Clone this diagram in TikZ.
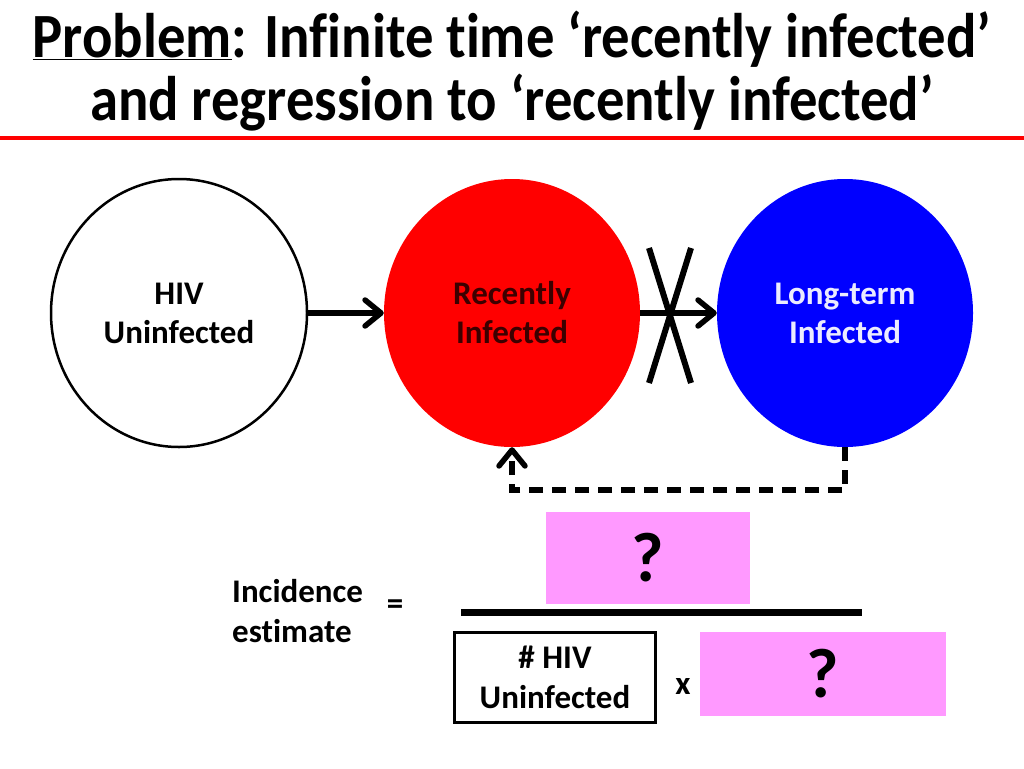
\documentclass[tikz,border=0pt]{standalone}
\usepackage{fontspec}
\setmainfont{Carlito}[Ligatures=NoCommon]
\newfontfamily\titlefam{Carlito}[Ligatures=NoCommon, FakeStretch=0.9]
\usetikzlibrary{shapes.geometric,arrows.meta}
\definecolor{pinkbox}{RGB}{255,153,255}
\definecolor{recenttext}{RGB}{60,0,0}
\definecolor{longtext}{RGB}{235,235,255}
\begin{document}
\begin{tikzpicture}[x=1pt,y=-1pt,
  titlefont/.style={font=\titlefam\fontsize{63}{69}\selectfont\bfseries, inner sep=0pt},
  state/.style={ellipse, minimum width=256pt, minimum height=268pt, inner sep=0pt, align=center,
    font=\fontsize{33}{39}\selectfont\bfseries},
  conn/.style={line width=5.5pt, -{Straight Barb[length=16pt,width=26pt,round]}},
  dashconn/.style={conn, dash pattern=on 14pt off 9pt},
  body/.style={font=\fontsize{33}{40}\selectfont\bfseries, inner sep=0pt},
  pinkq/.style={fill=pinkbox, inner sep=0pt, font=\fontsize{70}{80}\selectfont\bfseries},
]
\useasboundingbox (0,0) rectangle (1024,768);

% title
\node[titlefont, anchor=base] (t1) at (512,57) {\underline{Problem}: Infinite time ‘recently infected’};
\node[titlefont, anchor=base] (t2) at (512,120) {and regression to ‘recently infected’};
\draw[red, line width=4pt] (0,138) -- (1024,138);

% states
\node[state, draw, line width=2.5pt, fill=white] (hiv) at (179,313) {HIV\\Uninfected};
\node[state, fill=red, text=recenttext] (rec) at (512,313) {Recently\\Infected};
\node[state, fill=blue, text=longtext] (lt) at (845,313) {Long-term\\Infected};

\draw[conn] (hiv.east) -- (rec.west);
\draw[conn] (rec.east) -- (lt.west);
\draw[line width=6pt] (649,248) -- (691,383);
\draw[line width=6pt] (691,248) -- (649,383);
\draw[dashconn] (lt.south) -- ++(0,43) -| (rec.south);

% formula
\node[body, align=left, anchor=west] (inc) at (232,611) {Incidence\\estimate};
\node[body] (eq) at (395,607) {=};
\node[pinkq, minimum width=204pt, minimum height=92pt] (q1) at (648,558) {?};
\draw[line width=7pt] (461,612) -- (862,612);
\node[body, draw, line width=3pt, minimum width=201pt, minimum height=90pt, align=center] (hivbox) at (555,677) {\# HIV\\Uninfected};
\node[body] (times) at (683,686) {x};
\node[pinkq, minimum width=246pt, minimum height=84pt] (q2) at (823,674) {?};
\end{tikzpicture}
\end{document}
